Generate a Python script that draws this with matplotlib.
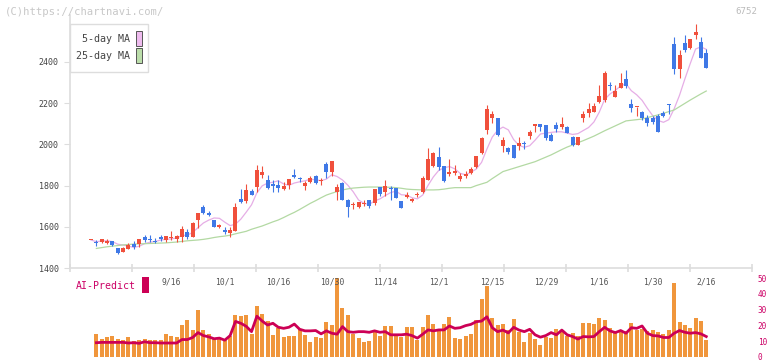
import numpy as np
import pandas as pd
import matplotlib
matplotlib.use("Agg")
import matplotlib.pyplot as plt
import matplotlib.transforms as mtransforms
from matplotlib.patches import Rectangle

# daily candles, index = trading day (8/25 .. 2/16)
opens = [1536, 1522, 1528, 1523, 1529, 1497, 1479, 1494, 1516, 1516, 1550, 1538, 1531, 1552, 1536, 1547,
         1539, 1549, 1576, 1550, 1633, 1694, 1669, 1633, 1601, 1584, 1572, 1581, 1733, 1727, 1774, 1793,
         1851, 1827, 1808, 1803, 1783, 1803, 1851, 1833, 1800, 1819, 1846, 1821, 1905, 1864, 1770, 1814,
         1730, 1706, 1698, 1712, 1728, 1714, 1795, 1767, 1790, 1790, 1725, 1747, 1725, 1755, 1767, 1827,
         1897, 1939, 1895, 1855, 1859, 1832, 1845, 1859, 1892, 1960, 2070, 2130, 2130, 1994, 1984, 1997,
         1992, 2003, 2042, 2089, 2097, 2094, 2046, 2094, 2083, 2083, 2037, 1997, 2130, 2154, 2159, 2204,
         2215, 2285, 2232, 2275, 2317, 2196, 2181, 2156, 2130, 2130, 2138, 2152, 2192, 2486, 2366, 2491,
         2466, 2531, 2495, 2442]
highs = [1536, 1536, 1542, 1542, 1531, 1497, 1500, 1520, 1533, 1541, 1560, 1560, 1544, 1558, 1555, 1581,
         1560, 1604, 1589, 1623, 1669, 1704, 1678, 1633, 1614, 1597, 1597, 1717, 1783, 1806, 1783, 1900,
         1897, 1851, 1827, 1827, 1816, 1832, 1882, 1843, 1824, 1846, 1851, 1838, 1916, 1919, 1806, 1819,
         1735, 1722, 1719, 1730, 1728, 1783, 1795, 1827, 1800, 1790, 1725, 1770, 1741, 1767, 1845, 1984,
         1965, 1987, 1895, 1929, 1900, 1859, 1871, 1892, 1944, 2038, 2191, 2164, 2130, 2038, 1989, 1997,
         2034, 2016, 2070, 2099, 2097, 2094, 2054, 2107, 2135, 2091, 2042, 2037, 2162, 2199, 2199, 2288,
         2356, 2305, 2288, 2345, 2361, 2220, 2183, 2162, 2143, 2139, 2146, 2162, 2194, 2523, 2458, 2531,
         2511, 2583, 2523, 2463]
lows = [1536, 1507, 1520, 1516, 1507, 1470, 1479, 1491, 1492, 1504, 1528, 1526, 1520, 1533, 1525, 1536,
        1526, 1528, 1539, 1549, 1594, 1660, 1654, 1597, 1596, 1565, 1549, 1581, 1717, 1717, 1754, 1770,
        1838, 1783, 1767, 1770, 1777, 1783, 1838, 1819, 1779, 1811, 1809, 1803, 1838, 1848, 1730, 1730,
        1649, 1686, 1693, 1703, 1693, 1706, 1751, 1751, 1730, 1741, 1693, 1738, 1722, 1746, 1762, 1827,
        1892, 1876, 1819, 1848, 1851, 1822, 1835, 1855, 1884, 1952, 2050, 2102, 2042, 1965, 1952, 1936,
        1973, 1978, 2026, 2062, 2065, 2021, 2018, 2062, 2075, 2054, 1994, 1997, 2107, 2135, 2156, 2199,
        2207, 2264, 2232, 2275, 2272, 2159, 2139, 2118, 2091, 2100, 2062, 2134, 2146, 2343, 2324, 2450,
        2463, 2511, 2421, 2372]
closes = [1536, 1519, 1539, 1533, 1513, 1474, 1499, 1512, 1502, 1541, 1536, 1535, 1528, 1539, 1555, 1550,
          1555, 1589, 1549, 1618, 1669, 1667, 1659, 1601, 1610, 1575, 1584, 1694, 1722, 1779, 1754, 1876,
          1864, 1787, 1800, 1790, 1798, 1832, 1842, 1830, 1814, 1838, 1814, 1824, 1868, 1919, 1795, 1730,
          1698, 1709, 1719, 1714, 1703, 1783, 1758, 1800, 1785, 1741, 1693, 1751, 1735, 1758, 1835, 1927,
          1957, 1892, 1822, 1864, 1871, 1848, 1858, 1880, 1944, 2033, 2172, 2148, 2046, 2021, 1965, 1936,
          2008, 2000, 2059, 2099, 2086, 2029, 2018, 2073, 2099, 2054, 1997, 2037, 2149, 2172, 2188, 2236,
          2345, 2282, 2259, 2298, 2285, 2178, 2183, 2126, 2102, 2107, 2062, 2139, 2190, 2366, 2434, 2458,
          2511, 2544, 2421, 2372]

# 25-day MA (needs days before the window)
ma25 = [np.nan, 1495, 1499, 1503, 1506, 1509, 1512, 1514, 1516, 1517, 1518, 1519, 1520, 1521, 1522, 1524,
        1526, 1529, 1532, 1534, 1536, 1539, 1543, 1548, 1552, 1555, 1559, 1566, 1572, 1578, 1588, 1596,
        1604, 1614, 1624, 1633, 1645, 1658, 1670, 1684, 1699, 1714, 1727, 1741, 1754, 1763, 1771, 1779,
        1784, 1788, 1790, 1792, 1793, 1793, 1793, 1792, 1792, 1790, 1787, 1783, 1781, 1780, 1779, 1779,
        1779, 1780, 1783, 1787, 1790, 1790, 1790, 1790, 1800, 1808, 1816, 1834, 1851, 1868, 1876, 1884,
        1892, 1900, 1908, 1916, 1927, 1938, 1949, 1962, 1975, 1987, 1997, 2008, 2018, 2029, 2040, 2053,
        2066, 2078, 2090, 2102, 2114, 2117, 2120, 2123, 2130, 2137, 2143, 2151, 2159, 2167, 2183, 2199,
        2215, 2230, 2245, 2259]

# lower panel
volume_bars = [0, 14.8, 11.5, 12.3, 13, 11.5, 10.5, 12.3, 10, 11, 11.5, 10.5, 10.5, 11, 14.8, 13,
               12.3, 20, 23.5, 17, 30, 17, 14.5, 11.5, 11.5, 10.5, 13.5, 26.5, 26, 26.5, 14.4, 32,
               27.5, 23, 13.8, 18.5, 12.7, 13.3, 13.3, 17.5, 13.8, 9.4, 12.7, 11.9, 21.9, 20, 50, 31.3,
               26.3, 14.4, 11.9, 9.4, 10, 16.9, 13.3, 19.4, 19.4, 14.4, 12.5, 18.8, 18.8, 10.8, 18.8, 26.5,
               20.6, 16.9, 20.6, 25, 11.9, 11.3, 13.1, 14.4, 23.1, 36.9, 45.2, 24.4, 20, 20.8, 16.8, 23.8,
               15.6, 9.4, 15, 11.3, 7.5, 12.5, 11.9, 17.5, 16.9, 13.1, 15, 13.1, 21.3, 21.3, 20.6, 24.4,
               23.1, 18.1, 15.6, 16.9, 16.3, 21.3, 16.9, 17.5, 16.3, 16.9, 15.6, 14.4, 16.9, 46.9, 21.9, 20,
               18.1, 24.4, 22.5, 10.6]
ai_predict = [np.nan, 9.0, 9.2, 9.2, 9.2, 9.2, 9.2, 8.8, 9.0, 8.6, 9.6, 9.0, 9.0, 8.8, 8.8, 8.8,
              8.8, 11.0, 11.0, 12.3, 15.4, 13.5, 12.7, 11.5, 11.9, 10.6, 13.5, 22.5, 21.3, 19.4, 16.0, 25.8,
              22.7, 20.2, 21.3, 18.8, 18.1, 18.8, 20.8, 17.5, 16.5, 16.5, 16.7, 14.6, 16.5, 15, 14.4, 19.2,
              16, 15.6, 16, 16, 15.6, 16.5, 15.6, 16, 14, 14, 14, 14.4, 13.5, 11.9, 14.4, 17.1,
              16.5, 17.1, 17.1, 19.6, 18.1, 18.5, 19.8, 20.6, 22.3, 22.7, 25.4, 18.5, 16, 17, 15.2, 18.75,
              17, 16, 17.5, 14, 12.5, 13.5, 15.4, 14, 17, 14, 12.9, 11.3, 12.9, 12.7, 12.9, 16,
              18.75, 16.5, 15.4, 16.7, 15, 18.5, 18.1, 19.6, 15, 13.5, 13.3, 12.3, 12.3, 15, 16.7, 15.6,
              15, 15.4, 14.6, 12.9]

date_labels = ['9/16', '10/1', '10/16', '10/30', '11/14', '12/1', '12/15', '12/29', '1/16', '1/30', '2/16']
price_ticks = [1400, 1600, 1800, 2000, 2200, 2400]
ai_ticks = [0, 10, 20, 30, 40, 50]

plt.rcParams['font.family'] = ['DejaVu Sans Mono']

W, H = 772, 361
fig = plt.figure(figsize=(W / 100, H / 100), dpi=100)
fig.patch.set_facecolor('white')

n = len(closes)
x = np.arange(n)
xlim = (-3.93, 123.55)
grid_col = '#dddddd'

# AI-Predict panel (created first, transparent so the date labels show)
ax2 = fig.add_axes([70 / W, 0, 682 / W, 83 / H])
ax2.patch.set_visible(False)
ax2.set_xlim(*xlim)
ax2.set_ylim(-2.6, 50)
ax2.bar(x, volume_bars, width=0.75, color='#f0963c', linewidth=0, zorder=1)
ax2.plot(x, ai_predict, color='#cc0055', lw=2.0, zorder=2)
for s in ax2.spines.values():
    s.set_visible(False)
ax2.set_xticks([])
ax2.yaxis.tick_right()
ax2.set_yticks(ai_ticks)
ax2.set_yticklabels([str(v) for v in ai_ticks])
ax2.tick_params(axis='y', length=0, pad=4, labelsize=5.6, labelcolor='#cc0066')
for lab in ax2.get_yticklabels():
    lab.set_ha('left')

ax = fig.add_axes([70 / W, (H - 268) / H, 682 / W, 253 / H])
ax.patch.set_visible(False)
ax.set_xlim(*xlim)
ax.set_ylim(1400, 2628)

ma5 = pd.Series(closes).rolling(5, min_periods=1).mean()
ax.plot(x, ma5, color='#e6aee6', lw=0.9, zorder=1)
ax.plot(x, ma25, color='#b3d9a3', lw=0.9, zorder=1)

o = np.array(opens, dtype=float)
c = np.array(closes, dtype=float)
up = c >= o
cols = np.where(up, '#f0503c', '#3f78e6')
ax.vlines(x, lows, highs, colors=cols, lw=0.8, zorder=2)
body_h = np.maximum(np.abs(c - o), 5)
ax.bar(x, body_h, bottom=np.minimum(o, c), width=0.75, color=cols, zorder=3, linewidth=0)

for s in ['top', 'right']:
    ax.spines[s].set_visible(False)
for s in ['left', 'bottom']:
    ax.spines[s].set_color(grid_col)
    ax.spines[s].set_linewidth(1.2)
ax.set_yticks(price_ticks)
ax.set_yticklabels([str(v) for v in price_ticks])
ax.tick_params(axis='y', length=4, color=grid_col, pad=4, labelsize=6, labelcolor='#444444')
ax.set_xticks(np.linspace(xlim[0], xlim[1], 12))
ax.set_xticklabels([])
ax.tick_params(axis='x', direction='inout', length=6, color=grid_col, width=1.2)

# date labels every 10 trading days
trans = mtransforms.blended_transform_factory(ax.transData, ax.transAxes)
for k, lab in enumerate(date_labels):
    ax.text(15 + 10 * k, -0.055, lab, transform=trans, ha='center', va='center',
            fontsize=5.8, color='#555555', clip_on=False)

# legend box
lg = Rectangle((70 / W, 1 - 72 / H), 78 / W, 48 / H, transform=fig.transFigure,
               facecolor='white', edgecolor=grid_col, lw=1, zorder=1)
fig.patches.append(lg)
fig.text(130 / W, 1 - 39 / H, '5-day MA', ha='right', va='center', fontsize=7.2, color='#444444', zorder=3)
fig.text(130 / W, 1 - 56 / H, '25-day MA', ha='right', va='center', fontsize=7.2, color='#444444', zorder=3)
for yy, fc in [(31, '#eebbee'), (48, '#bbddaa')]:
    sw = Rectangle((136 / W, 1 - (yy + 15) / H), 6 / W, 15 / H, transform=fig.transFigure,
                   facecolor=fc, edgecolor='#555555', lw=0.7, zorder=2)
    fig.patches.append(sw)

fig.text(5 / W, 1 - 12 / H, '(C)https://chartnavi.com/', ha='left', va='center',
         fontsize=7.6, color='#c8c8c8')
fig.text(757 / W, 1 - 12 / H, '6752', ha='right', va='center', fontsize=6.6, color='#bbbbbb')

fig.text(76 / W, 1 - 286 / H, 'AI-Predict', ha='left', va='center', fontsize=7.1, color='#cc0066')
fig.patches.append(Rectangle((142 / W, 1 - 293 / H), 7 / W, 16 / H, transform=fig.transFigure,
                             facecolor='#cc0055', edgecolor='none'))

fig.savefig('out.png', dpi=100)
